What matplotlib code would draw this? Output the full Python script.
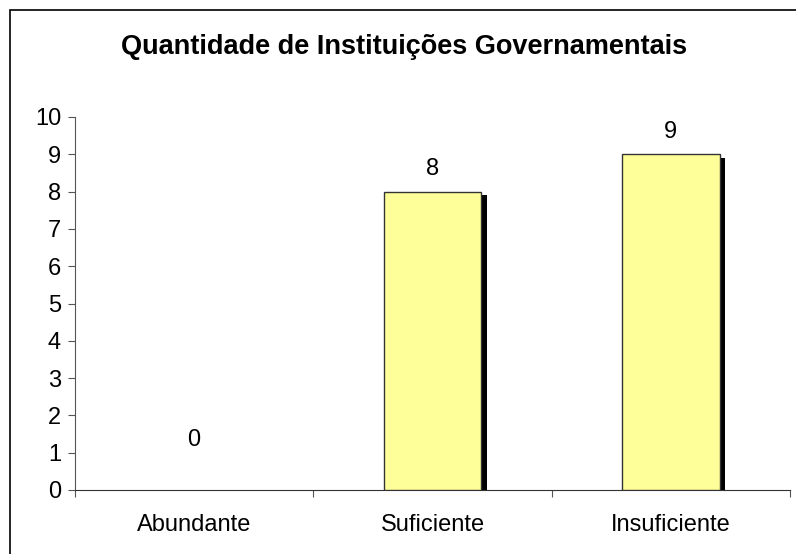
import matplotlib
matplotlib.use("Agg")
import matplotlib.pyplot as plt
import matplotlib.patheffects as pe
from matplotlib.patches import Rectangle

# Dados
categorias = ["Abundante", "Suficiente", "Insuficiente"]
valores = [0, 8, 9]
y_ticks = list(range(0, 11))

plt.rcParams['font.family'] = ['Liberation Sans', 'DejaVu Sans']

fig = plt.figure(figsize=(7.96, 5.54), dpi=100)
ax = fig.add_axes([75 / 796, 1 - 490 / 554, 715 / 796, 373 / 554])

# Moldura externa da figura
fig.patches.append(Rectangle((10 / 796, -0.05), 1.05, 1 - 10 / 554 + 0.05,
                             transform=fig.transFigure, fill=False,
                             edgecolor='black', linewidth=1.2))

x = list(range(len(categorias)))
barras = ax.bar(x, valores, width=0.41, color='#FFFF99',
                edgecolor='#333333', linewidth=1.0, zorder=3)
for b, v in zip(barras, valores):
    if v == 0:
        b.set_visible(False)
        continue
    b.set_path_effects([pe.SimplePatchShadow(offset=(4, -2.5),
                                             shadow_rgbFace='black', alpha=1),
                        pe.Normal()])

# rótulos de valor (o zero fica mais alto, como no original)
for xi, v in zip(x, valores):
    dy = 8 if v > 0 else 28
    ax.annotate(str(v), (xi, v), xytext=(0, dy), textcoords='offset points',
                ha='center', va='bottom', fontsize=17)

ax.set_xlim(-0.5, 2.5)
ax.set_ylim(0, 10)
ax.set_yticks(y_ticks)
ax.set_xticks([-0.5, 0.5, 1.5, 2.5])
ax.set_xticklabels([])
ax.set_xticks(x, minor=True)
ax.set_xticklabels(categorias, minor=True)
ax.tick_params(axis='x', which='minor', length=0, pad=17, labelsize=17)
ax.tick_params(axis='x', which='major', length=5, direction='out',
               color='#555555')
ax.tick_params(axis='y', length=5, direction='out', labelsize=17,
               color='#555555', pad=5)

ax.spines['top'].set_visible(False)
ax.spines['right'].set_visible(False)
ax.spines['left'].set_color('#555555')
ax.spines['bottom'].set_color('#333333')

fig.text(404 / 796, 1 - 47 / 554, "Quantidade de Instituições Governamentais",
         ha='center', va='center', fontsize=19.5, fontweight='bold')

fig.savefig("out.png", dpi=100)
